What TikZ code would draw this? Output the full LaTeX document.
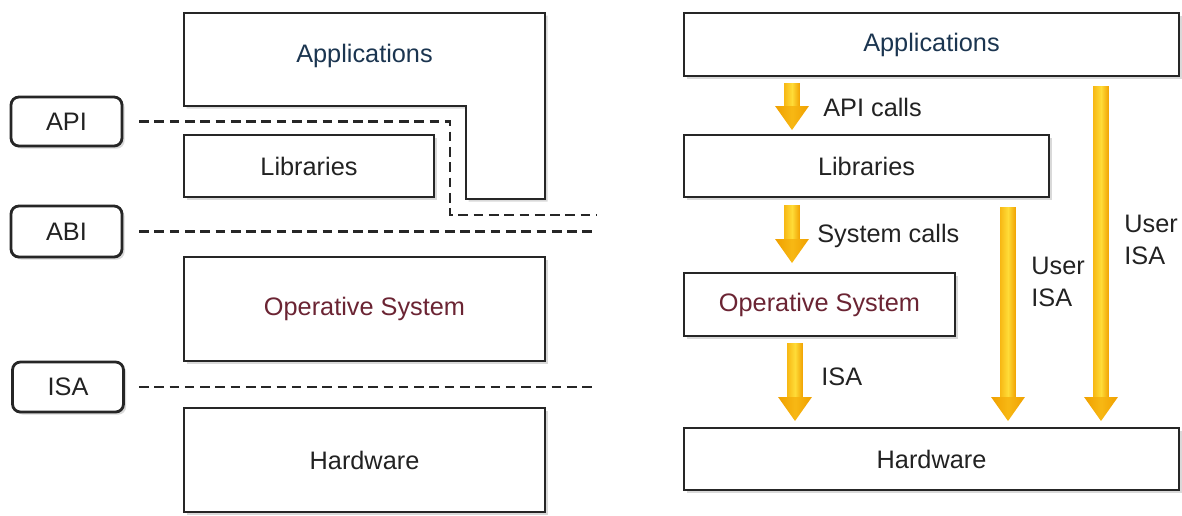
\documentclass[tikz,border=0pt]{standalone}
\usepackage{fontspec}
\setmainfont{Liberation Sans}
\usepackage{tikz}
\usetikzlibrary{positioning,calc,shadows}

\definecolor{boxline}{HTML}{262626}
\definecolor{txt}{HTML}{222222}
\definecolor{appblue}{HTML}{1B3550}
\definecolor{osred}{HTML}{6B2433}
\definecolor{argold}{HTML}{F0A000}
\definecolor{armid}{HTML}{F7B814}
\definecolor{arlight}{HTML}{FFDC38}

\tikzset{
  layer/.style={draw=boxline, line width=1.6pt, fill=white, inner sep=0pt,
    text=txt, drop shadow={shadow xshift=1.5pt, shadow yshift=-1.5pt, opacity=0.3}},
  iface/.style={layer, rounded corners=4.5pt, minimum width=2.22cm},
  sep/.style={draw=boxline, line width=1.5pt, dash pattern=on 5.5pt off 3.2pt},
  lbl/.style={text=txt, inner sep=0pt, anchor=west, align=left},
}

% block arrow from #1 down to #2
\newcommand\goldarrow[2]{%
  \shade[left color=armid, right color=argold, middle color=arlight]
    let \p1=(#1), \p2=(#2) in
    (\x1-4.5pt,\y1) -- (\x1+4.5pt,\y1) -- (\x1+4.5pt,\y2+13pt)
    -- (\x1-4.5pt,\y2+13pt) -- cycle;
  \shade[left color=argold, right color=argold, middle color=armid]
    let \p1=(#1), \p2=(#2) in
    (\x1-9.6pt,\y2+13.6pt) -- (\x1+9.6pt,\y2+13.6pt) -- (\x2,\y2) -- cycle;
}

\begin{document}
\begin{tikzpicture}[x=0.02cm, y=-0.02cm, font=\fontsize{14.4}{18}\selectfont]
    \useasboundingbox (0,0) rectangle (1182,515);

    % Left: layers and interfaces
    \draw[layer, line join=miter] (184,13) -- (545,13) -- (545,199) -- (466,199)
        -- (466,106) -- (184,106) -- cycle;
    \node[text=appblue] (appsL) at (364.5,56) {Applications};
    \node[layer, minimum width=5cm, minimum height=1.24cm] (libsL) at (309,166) {Libraries};
    \node[layer, minimum width=7.22cm, minimum height=2.08cm, text=osred] (osL) at (364.5,309) {Operative System};
    \node[layer, minimum width=7.22cm, minimum height=2.08cm] (hwL) at (364.5,460) {Hardware};

    \node[iface, minimum height=0.98cm] (apiL) at (66.5,121.5) {API};
    \node[iface, minimum height=1.02cm] (abiL) at (66.5,231.5) {ABI};
    \node[iface, minimum height=1cm] (isaL) at (68,387) {ISA};

    \coordinate (apiend) at (597,215);
    \draw[sep] ([xshift=9pt]apiL.east) -| (450,215) -- (apiend);
    \draw[sep] ([xshift=9pt]abiL.east) -- (abiL.east -| apiend);
    \draw[sep] ([xshift=8pt]isaL.east) -- (isaL.east -| apiend);

    % Right: layers and calls
    \node[layer, minimum width=9.9cm, minimum height=1.26cm, text=appblue] (appsR) at (931.5,44.5) {Applications};
    \node[layer, minimum width=7.3cm, minimum height=1.24cm] (libsR) at (866.5,166) {Libraries};
    \node[layer, minimum width=5.42cm, minimum height=1.26cm, text=osred] (osR) at (819.5,304.5) {Operative System};
    \node[layer, minimum width=9.9cm, minimum height=1.24cm] (hwR) at (931.5,459) {Hardware};

    \coordinate (apitop) at (792,83);   \coordinate (apitip) at (792,130);
    \coordinate (systop) at (792,205);  \coordinate (systip) at (792,263);
    \coordinate (isatop) at (795,343);  \coordinate (isatip) at (795,421);
    \coordinate (ulibtop) at (1008,207); \coordinate (ulibtip) at (1008,421);
    \coordinate (uapptop) at (1101,86);  \coordinate (uapptip) at (1101,421);
    \goldarrow{apitop}{apitip}
    \goldarrow{systop}{systip}
    \goldarrow{isatop}{isatip}
    \goldarrow{ulibtop}{ulibtip}
    \goldarrow{uapptop}{uapptip}

    \node[lbl] (apicalls) at (823,107) {API calls};
    \node[lbl] (syscalls) at (817,236) {System calls};
    \node[lbl] (isacall) at (821,377) {ISA};
    \node[lbl] (userlib) at (1031,282) {User\\ISA};
    \node[lbl] (userapp) at (1124,240) {User\\ISA};
\end{tikzpicture}
\end{document}
